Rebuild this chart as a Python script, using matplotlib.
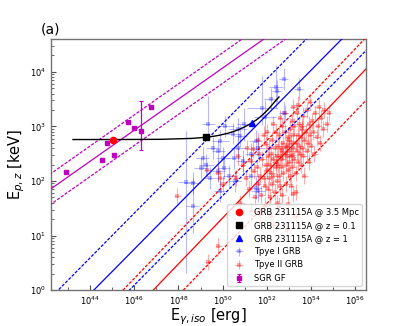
import numpy as np
import matplotlib
matplotlib.use("Agg")
import matplotlib.pyplot as plt

# ---------------- data (log10 values) ----------------
# SGR giant flares
sgr_logE = [42.9, 44.56, 45.09, 44.76, 45.74, 46.01, 46.29, 46.77]
sgr_logEp = [2.17, 2.39, 2.47, 2.69, 3.09, 2.98, 2.91, 3.35]
sgr_yerr_lo = [0.0, 0.0, 0.0, 0.0, 0.0, 0.0, 0.35, 0.0]
sgr_yerr_hi = [0.0, 0.0, 0.0, 0.0, 0.0, 0.0, 0.56, 0.0]

# Type I GRBs
t1_logE = [52.77, 52.45, 52.41, 53.45, 52.18, 51.80, 51.90, 52.77, 50.95, 50.70,
           50.10, 50.45, 49.36, 50.80, 49.90, 51.50, 51.60, 50.70, 49.55, 49.80,
           50.00, 50.50, 49.10, 49.00, 50.05, 50.90, 48.64, 50.30, 48.36, 48.64,
           49.80, 49.45, 49.90, 51.60, 51.30, 51.30, 51.50, 50.55, 49.25]
t1_logEp = [3.87, 3.65, 3.73, 3.69, 3.51, 3.33, 3.18, 3.24, 3.04, 2.96,
            3.00, 2.87, 3.05, 2.82, 2.73, 2.73, 2.60, 2.60, 2.60, 2.55,
            2.42, 2.42, 2.42, 2.24, 2.24, 2.36, 1.96, 2.09, 1.98, 1.55,
            2.18, 2.05, 1.82, 1.82, 2.50, 2.10, 1.87, 2.00, 2.30]
t1_xerr = [0.2, 0.2, 0.3, 0.2, 0.3, 0.7, 0.5, 0.2, 0.3, 0.4,
           0.4, 0.3, 0.3, 0.3, 0.4, 0.3, 0.3, 0.3, 0.3, 0.3,
           0.3, 0.3, 0.3, 0.3, 0.3, 0.3, 0.4, 0.3, 0.4, 0.3,
           0.3, 0.3, 0.3, 0.3, 0.3, 0.3, 0.3, 0.3, 0.3]
t1_yerr_lo = [0.2, 0.2, 0.4, 0.2, 0.2, 0.3, 0.3, 0.2, 0.3, 0.2,
              0.2, 0.2, 0.3, 0.2, 0.2, 0.2, 0.2, 0.2, 0.2, 0.2,
              0.2, 0.2, 0.2, 0.2, 0.2, 0.2, 0.2, 0.2, 1.67, 0.5,
              0.2, 0.2, 0.2, 0.2, 0.2, 0.2, 0.2, 0.2, 0.2]
t1_yerr_hi = [0.2, 0.2, 0.4, 0.2, 0.2, 0.6, 0.3, 0.2, 0.3, 0.2,
              0.2, 0.2, 0.5, 0.2, 0.2, 0.2, 0.2, 0.2, 0.2, 0.2,
              0.2, 0.2, 0.2, 0.2, 0.2, 0.2, 0.2, 0.2, 0.93, 0.5,
              0.2, 0.2, 0.2, 0.2, 0.2, 0.2, 0.2, 0.2, 0.2]

# Type II GRBs
t2_logE = [47.95, 49.35, 49.80, 49.30, 49.80, 50.00, 49.90,
           50.60, 50.80, 50.90, 50.70,
           51.05, 51.20, 51.27, 51.36, 51.40, 51.45, 51.10, 51.30,
           51.55, 51.60, 51.65, 51.70, 51.75, 51.80, 51.85, 51.90, 51.95, 51.95, 51.60, 51.70, 51.85, 51.90,
           52.00, 52.05, 52.05, 52.10, 52.10, 52.15, 52.15, 52.20, 52.20, 52.20, 52.25, 52.25,
           52.30, 52.30, 52.35, 52.35, 52.40, 52.40, 52.45, 52.45, 52.48, 52.00, 52.30,
           52.50, 52.50, 52.55, 52.55, 52.60, 52.60, 52.65, 52.65, 52.70, 52.70, 52.70, 52.75, 52.75,
           52.80, 52.80, 52.85, 52.85, 52.90, 52.90, 52.95, 52.95, 52.95, 52.60, 52.80, 52.55,
           53.00, 53.00, 53.05, 53.05, 53.10, 53.10, 53.15, 53.15, 53.20, 53.20, 53.20, 53.25, 53.25,
           53.30, 53.30, 53.35, 53.35, 53.40, 53.40, 53.45, 53.45, 53.50, 53.10, 53.30, 53.40,
           53.55, 53.55, 53.60, 53.60, 53.65, 53.65, 53.70, 53.70, 53.75, 53.80, 53.80, 53.85,
           53.90, 53.90, 53.95, 53.95,
           54.00, 54.05, 54.10, 54.15, 54.20, 54.25, 54.30, 54.35, 54.40, 54.45,
           54.55, 54.60, 54.70, 54.80,
           52.30, 52.90, 53.30, 52.70, 53.00, 52.40, 53.60, 53.20, 52.85, 53.15]
t2_logEp = [1.73, 0.52, 0.80, 2.20, 2.15, 1.95, 2.05,
            2.05, 1.60, 2.30, 2.45,
            2.05, 1.85, 2.36, 2.58, 2.18, 1.70, 2.60, 1.45,
            2.25, 1.95, 2.50, 2.10, 1.75, 2.40, 2.05, 1.55, 2.67, 2.30, 2.75, 1.40, 2.85, 1.90,
            2.20, 2.45, 1.85, 2.60, 2.05, 2.30, 1.70, 2.50, 1.36, 2.15, 2.75, 1.95,
            2.40, 2.10, 2.60, 1.80, 2.25, 2.90, 2.45, 2.00, 1.60, 2.90, 3.05,
            2.30, 2.65, 2.10, 2.85, 2.45, 1.90, 2.60, 2.25, 3.00, 2.40, 1.75, 2.70, 2.15,
            2.50, 2.90, 2.30, 1.95, 2.65, 2.45, 1.58, 2.80, 2.20, 3.15, 3.25, 1.55,
            2.55, 2.35, 2.95, 2.10, 2.70, 2.45, 3.10, 2.25, 1.76, 2.60, 2.85, 2.40, 3.00,
            2.70, 2.15, 2.55, 3.25, 2.85, 2.35, 2.65, 3.05, 2.50, 1.90, 1.80, 3.40,
            2.80, 2.30, 3.00, 2.60, 2.45, 3.20, 2.75, 2.10, 2.90, 2.55, 3.30, 2.70,
            3.05, 2.35, 2.85, 3.45,
            2.65, 3.10, 2.90, 2.50, 3.25, 2.80, 3.00, 3.35, 2.70, 3.15,
            2.95, 3.30, 3.05, 3.25,
            1.20, 1.10, 1.35, 2.55, 2.75, 2.35, 2.95, 3.35, 2.62, 2.48]
t2_xerr = 0.15
t2_yerr = 0.15

# GRB 231115A at different distances
grb_logE = [45.05, 49.27, 51.32]
grb_logEp = [2.76, 2.80, 3.06]

# GRB 231115A track (moved to increasing redshift)
track_logE = [43.23, 45.23, 47.22, 48.63, 49.25, 49.61, 49.86, 50.23, 50.49, 50.69,
              50.99, 51.16, 51.30, 51.50, 51.65, 51.87, 52.04, 52.17, 52.37, 52.55]
track_logEp = [2.76, 2.76, 2.764, 2.781, 2.801, 2.821, 2.839, 2.874, 2.906, 2.936,
               2.990, 3.027, 3.061, 3.112, 3.158, 3.237, 3.304, 3.362, 3.459, 3.54]

# Ep-Eiso relations: slope, log Ep at log Eiso = 52, 1-sigma scatter (dex)
rel_slope = [0.285, 0.41, 0.421]
rel_norm52 = [4.64, 3.21, 2.164]
rel_sigma = [0.28, 0.66, 0.575]
rel_colors = ['m', 'b', 'r']

xlim = (10**42.23, 10**56.5)
ylim = (1, 10**4.6)

# ---------------- plotting ----------------
fig = plt.figure(figsize=(4.07, 3.26), dpi=100)
ax = fig.add_subplot(111)
ax.set_xscale('log')
ax.set_yscale('log')


def errs(logv, lo, hi):
    logv = np.asarray(logv, float)
    v = 10**logv
    return v, np.vstack([v - 10**(logv - np.asarray(lo, float)),
                         10**(logv + np.asarray(hi, float)) - v])


# Type II
x, xe = errs(t2_logE, np.full(len(t2_logE), t2_xerr), np.full(len(t2_logE), t2_xerr))
y, ye = errs(t2_logEp, np.full(len(t2_logEp), t2_yerr), np.full(len(t2_logEp), t2_yerr))
h2 = ax.errorbar(x, y, xerr=xe, yerr=ye, fmt='s', color='r', ms=2.2, alpha=0.33,
                 elinewidth=0.8, capsize=1.2, capthick=0.6, mew=0, zorder=2)

# Type I
x, xe = errs(t1_logE, t1_xerr, t1_xerr)
y, ye = errs(t1_logEp, t1_yerr_lo, t1_yerr_hi)
h1 = ax.errorbar(x, y, xerr=xe, yerr=ye, fmt='s', color='b', ms=2.2, alpha=0.28,
                 elinewidth=0.8, capsize=1.2, capthick=0.6, mew=0, zorder=2)

# relations
lx = np.array([42.0, 57.0])
for s, n, sg, c in zip(rel_slope, rel_norm52, rel_sigma, rel_colors):
    ly = n + s * (lx - 52.0)
    ax.plot(10**lx, 10**ly, color=c, lw=0.9, zorder=3)
    ax.plot(10**lx, 10**(ly + sg), color=c, lw=0.9, ls=(0, (2.5, 1.2)), zorder=3)
    ax.plot(10**lx, 10**(ly - sg), color=c, lw=0.9, ls=(0, (2.5, 1.2)), zorder=3)

# SGR GF
x = 10**np.asarray(sgr_logE)
y, ye = errs(sgr_logEp, sgr_yerr_lo, sgr_yerr_hi)
hs = ax.errorbar(x, y, yerr=ye, fmt='s', color='m', ms=3, elinewidth=0.9,
                 capsize=1.5, capthick=0.8, zorder=4)

# track
ax.plot(10**np.asarray(track_logE), 10**np.asarray(track_logEp), color='k', lw=1.0, zorder=5)
g0, = ax.plot(10**grb_logE[0], 10**grb_logEp[0], 'o', color='r', ms=4.5, zorder=6)
g1, = ax.plot(10**grb_logE[1], 10**grb_logEp[1], 's', color='k', ms=4.5, zorder=6)
g2, = ax.plot(10**grb_logE[2], 10**grb_logEp[2], '^', color='b', ms=4.5, zorder=6)

ax.set_xlim(*xlim)
ax.set_ylim(*ylim)
ax.set_xticks([10.0**k for k in range(44, 57, 2)])
ax.set_xticks([10.0**k for k in range(43, 57, 2)], minor=True)
ax.set_xticklabels([r'$10^{%d}$' % k for k in range(44, 57, 2)], minor=False)
ax.xaxis.set_minor_formatter(matplotlib.ticker.NullFormatter())
ax.tick_params(which='both', direction='in', labelsize=6, color='0.3')
ax.tick_params(which='major', length=3.5)
ax.tick_params(which='minor', length=2)
for sp in ax.spines.values():
    sp.set_color('0.45')
    sp.set_linewidth(1.0)

ax.set_xlabel(r'E$_{\gamma,iso}$ [erg]', fontsize=10.5, labelpad=-1)
ax.set_ylabel(r'E$_{p,z}$ [keV]', fontsize=10.5, labelpad=2)
ax.text(-0.032, 1.012, '(a)', transform=ax.transAxes, fontsize=10, ha='left', va='bottom')

leg = ax.legend([g0, g1, g2, h1, h2, hs],
                ['GRB 231115A @ 3.5 Mpc', 'GRB 231115A @ z = 0.1', 'GRB 231115A @ z = 1',
                 'Tpye I GRB', 'Tpye II GRB', 'SGR GF'],
                loc='lower right', fontsize=6, framealpha=0.8)
leg.set_zorder(10)

fig.savefig('out.png', dpi=100)
